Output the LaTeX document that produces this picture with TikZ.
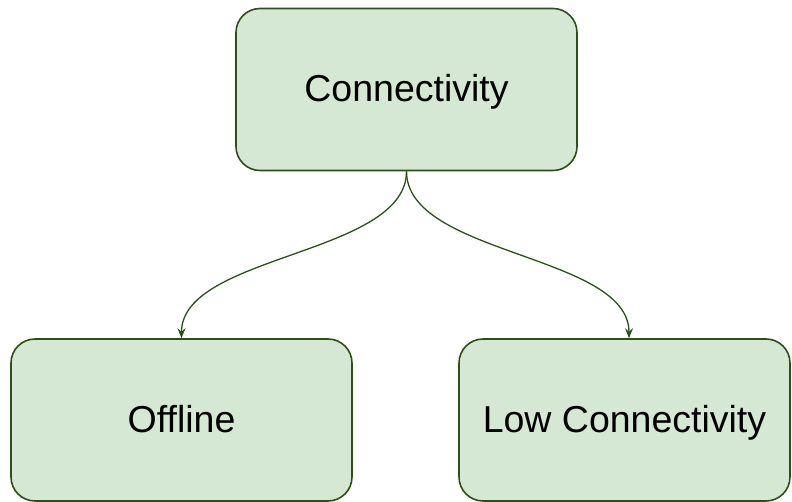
\documentclass[tikz,border=0pt]{standalone}
\usepackage{fontspec}
\setmainfont{Liberation Sans}
\usetikzlibrary{arrows.meta,calc}
\definecolor{boxfill}{HTML}{D5E8D4}
\definecolor{boxline}{HTML}{2D5016}
\tikzset{
  box/.style={draw=boxline, fill=boxfill, line width=1.6pt, rounded corners=24pt,
    minimum width=341pt, minimum height=162pt, inner sep=0pt,
    font=\fontsize{37.5}{42}\selectfont, text=black,
    text height=27pt, text depth=3pt},
  link/.style={draw=boxline, line width=1.3pt,
    -{Stealth[length=10pt, width=8pt, inset=3.5pt]}}
}
\begin{document}
\begin{tikzpicture}[x=1pt, y=-1pt]
  \useasboundingbox (0,0) rectangle (792,502);
  \node[box] (top) at (406.5,89.5) {Connectivity};
  \node[box] (off) at (181.5,420) {Offline};
  \node[box, minimum width=331pt] (low) at (624.5,420) {Low Connectivity};
  \coordinate (lowin) at ([xshift=4.5pt]low.north);
  \draw[link] (top.south) .. controls ($(top.south)+(0,84)$) and ($(off.north)+(0,-84)$) .. (off.north);
  \draw[link] (top.south) .. controls ($(top.south)+(0,84)$) and ($(lowin)+(0,-84)$) .. (lowin);
\end{tikzpicture}
\end{document}
